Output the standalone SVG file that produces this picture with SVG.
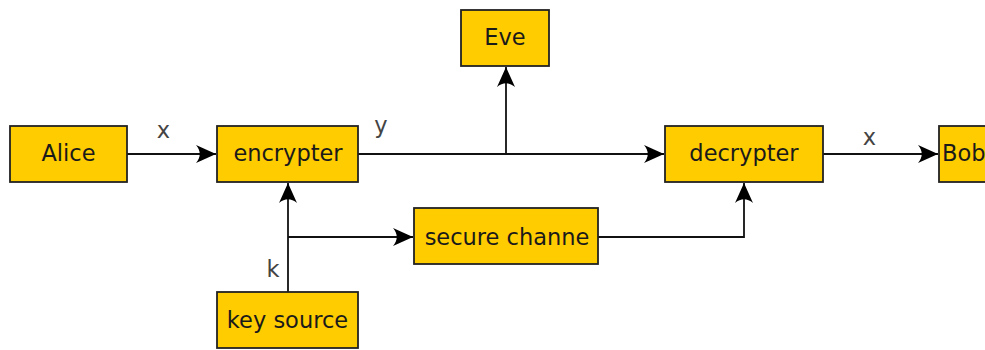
<svg xmlns="http://www.w3.org/2000/svg" width="985" height="350" viewBox="0 0 985 350">
  <style>
    .box { fill: #ffcc00; stroke: #222; stroke-width: 1.8; }
    .name { font-family: "DejaVu Sans", sans-serif; font-size: 22.5px; fill: #1a1a1a; text-anchor: middle; }
    .lbl { font-family: "DejaVu Sans", sans-serif; font-size: 22.5px; fill: #444; text-anchor: middle; }
    .wire { fill: none; stroke: #111; stroke-width: 1.8; }
  </style>
  <defs>
    <marker id="head" viewBox="-21 -10 22 20" markerUnits="userSpaceOnUse" markerWidth="22" markerHeight="20" refX="0" refY="0" orient="auto">
      <path d="M0,0 L-20,-9 C-15,-3 -15,3 -20,9 Z" fill="#000"/>
    </marker>
  </defs>

  <rect width="985" height="350" fill="#fff"/>

  <g id="connectors">
    <path class="wire" d="M127,154 H216" marker-end="url(#head)"/>
    <path class="wire" d="M358,154 H664" marker-end="url(#head)"/>
    <path class="wire" d="M506,154 V67" marker-end="url(#head)"/>
    <path class="wire" d="M823,154 H938" marker-end="url(#head)"/>
    <path class="wire" d="M288,292 V183" marker-end="url(#head)"/>
    <path class="wire" d="M288,237 H413" marker-end="url(#head)"/>
    <path class="wire" d="M598,237 H744 V183" marker-end="url(#head)"/>
    <text class="lbl" x="163.5" y="138">x</text>
    <text class="lbl" x="381" y="133">y</text>
    <text class="lbl" x="869.5" y="145">x</text>
    <text class="lbl" x="273" y="277">k</text>
  </g>

  <g id="alice">
    <rect class="box" x="10" y="126" width="117" height="56"/>
    <text class="name" x="68.5" y="161">Alice</text>
  </g>
  <g id="encrypter">
    <rect class="box" x="217" y="126" width="141" height="56"/>
    <text class="name" x="288" y="161">encrypter</text>
  </g>
  <g id="eve">
    <rect class="box" x="461" y="10" width="88" height="56"/>
    <text class="name" x="505" y="45">Eve</text>
  </g>
  <g id="decrypter">
    <rect class="box" x="665" y="126" width="158" height="56"/>
    <text class="name" x="744" y="161">decrypter</text>
  </g>
  <g id="bob">
    <rect class="box" x="939" y="126" width="60" height="56"/>
    <text class="name" x="942" y="161" style="text-anchor:start">Bob</text>
  </g>
  <g id="secure-channel">
    <rect class="box" x="414" y="208" width="184" height="56"/>
    <text class="name" x="507" y="245">secure channe</text>
  </g>
  <g id="key-source">
    <rect class="box" x="217" y="292" width="141" height="56"/>
    <text class="name" x="287.5" y="328">key source</text>
  </g>
</svg>
